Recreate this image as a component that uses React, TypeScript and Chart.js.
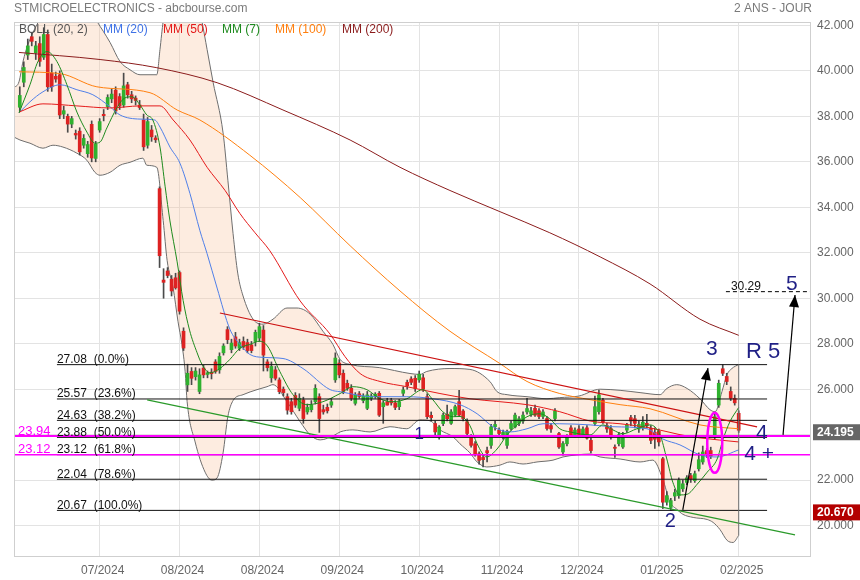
import React, { useEffect, useRef } from 'react';
import { Chart, registerables } from 'chart.js';
Chart.register(...registerables);

// ---------- DATA ----------
const candleOpen = [38.40,39.50,40.70,41.50,40.80,41.20,40.60,41.60,39.90,39.76,
 39.83,38.10,38.00,37.66,37.25,37.35,36.73,36.36,37.65,36.15,
 37.40,38.09,38.43,38.77,39.15,38.87,38.50,39.39,38.95,38.80,
 38.50,37.84,36.73,37.40,37.05,34.82,30.80,31.20,30.84,30.90,
 31.13,28.55,26.19,26.78,26.55,25.90,26.93,26.65,26.75,27.20,
 26.85,27.60,28.62,27.74,28.30,27.80,28.10,28.05,27.95,28.10,
 28.25,28.60,27.20,26.50,26.85,26.41,26.00,25.67,25.45,25.72,
 25.16,25.53,25.00,25.10,25.45,25.67,25.10,25.20,25.30,26.41,
 27.15,26.70,26.26,26.04,25.38,25.80,25.50,25.16,25.60,25.70,
 25.82,25.23,25.45,25.50,25.40,25.23,25.82,26.30,26.45,26.48,
 26.41,26.50,25.67,24.85,24.49,23.90,24.49,24.90,24.50,24.86,
 25.45,25.04,24.57,23.90,23.60,23.16,23.00,23.30,23.53,24.35,
 24.20,23.90,23.53,24.27,24.34,24.50,24.60,25.00,24.90,25.16,
 25.05,24.80,24.71,24.40,24.71,24.05,23.24,23.60,24.30,24.00,
 24.25,24.00,24.30,23.75,24.49,25.01,25.52,24.40,24.27,23.45,
 23.60,23.46,24.20,24.75,24.70,24.25,24.30,24.50,24.27,24.10,
 24.15,22.94,21.03,20.80,21.30,21.32,21.62,21.90,22.20,21.98,
 22.50,22.80,23.30,23.30,23.90,25.30,26.90,26.56,25.90,25.60,
 24.94];
const candleHigh = [39.30,40.40,41.40,41.70,41.30,41.50,41.90,41.80,40.30,39.95,
 40.00,38.45,38.10,38.00,37.40,37.50,37.20,36.90,37.80,36.90,
 37.90,38.30,38.95,39.20,39.30,39.00,39.90,39.50,39.10,38.90,
 38.70,38.10,37.95,37.60,37.15,34.90,31.30,31.35,31.00,31.10,
 31.20,28.70,27.10,26.95,26.95,26.90,27.05,26.80,26.90,27.30,
 27.60,28.00,28.75,28.20,28.50,28.20,28.30,28.20,28.10,28.60,
 28.90,28.80,27.30,27.20,27.00,26.50,26.10,25.80,25.60,25.85,
 25.80,25.65,25.35,25.50,26.20,25.80,25.30,25.35,25.60,27.60,
 27.30,26.85,26.40,26.20,25.85,25.90,25.80,25.90,25.80,25.85,
 25.90,25.50,25.60,25.60,25.50,25.55,26.10,26.40,26.55,26.60,
 26.80,26.65,25.80,25.00,24.60,24.40,24.95,25.30,25.10,25.30,
 25.95,25.10,24.70,24.00,23.70,23.25,23.10,23.45,24.45,24.60,
 24.30,24.20,24.20,24.60,24.95,24.80,25.00,25.60,25.20,25.30,
 25.15,25.10,24.80,24.50,25.15,24.10,23.70,24.00,24.40,24.30,
 24.40,24.35,24.40,23.85,25.70,25.95,25.60,24.50,24.40,23.55,
 24.10,24.10,24.50,24.85,24.85,24.60,24.80,24.90,24.40,24.30,
 24.25,23.00,21.50,21.20,21.60,22.10,22.00,22.20,22.30,22.40,
 23.20,23.50,23.40,23.45,24.95,26.40,27.08,26.70,26.10,25.75,
 25.05];
const candleLow = [38.20,39.30,40.50,41.10,40.50,40.20,40.50,39.10,39.10,39.50,
 37.90,37.90,37.30,37.50,37.00,36.30,36.60,36.20,36.00,36.00,
 37.30,37.80,38.30,38.60,38.10,38.30,38.40,38.80,38.60,38.50,
 38.30,36.50,36.60,36.90,36.85,31.35,30.00,30.90,30.10,30.40,
 29.30,27.70,25.90,26.20,26.40,25.80,26.50,26.50,26.45,26.70,
 26.70,27.50,28.00,27.60,27.80,27.70,27.75,27.60,27.60,27.90,
 28.10,26.80,26.80,26.30,26.40,25.80,25.70,24.90,24.90,25.20,
 25.05,24.50,24.90,25.00,25.35,24.10,24.90,24.95,25.20,26.30,
 26.50,25.80,25.95,25.50,25.30,25.60,25.40,25.10,25.50,25.60,
 24.80,24.50,25.30,25.30,25.10,25.10,25.70,26.00,26.20,25.90,
 26.30,25.90,24.70,24.60,23.95,23.80,24.40,24.60,24.45,24.80,
 24.80,24.60,24.00,23.45,23.05,22.70,22.58,22.80,23.40,24.20,
 23.95,23.80,23.40,24.20,24.30,24.40,24.50,24.90,24.80,24.80,
 24.70,24.70,24.20,24.10,24.60,23.40,23.10,23.50,23.95,23.90,
 23.95,23.90,23.80,23.20,24.40,24.90,24.50,24.10,23.80,23.00,
 23.50,23.40,24.10,24.40,24.30,24.10,24.20,24.30,23.60,23.40,
 23.50,20.75,20.90,20.67,21.10,21.20,21.50,21.80,21.90,21.90,
 22.40,22.70,23.00,22.95,23.80,25.20,26.60,26.20,25.50,25.30,
 24.10];
const candleClose = [38.92,40.15,41.10,41.30,41.10,40.42,41.60,39.30,39.30,39.64,
 38.06,38.25,37.66,37.90,37.18,36.44,37.03,36.76,36.17,36.78,
 37.77,38.03,38.83,38.98,38.24,38.46,39.34,38.95,38.77,38.70,
 38.39,36.66,37.77,37.10,36.97,31.87,30.70,31.00,30.32,30.46,
 29.43,27.81,26.70,26.48,26.80,26.63,26.63,26.72,26.68,26.78,
 27.44,27.90,28.18,28.03,27.90,28.05,27.85,27.70,27.70,28.50,
 28.75,27.50,26.95,27.00,26.48,25.89,25.85,25.08,25.01,25.30,
 25.60,24.71,25.20,25.30,26.04,24.71,25.00,25.05,25.45,27.37,
 26.63,25.90,26.04,25.60,25.75,25.68,25.70,25.75,25.70,25.78,
 24.86,25.40,25.30,25.40,25.20,25.45,25.97,26.15,26.30,26.04,
 26.66,26.00,24.79,24.75,24.12,24.34,24.86,24.70,25.00,25.23,
 24.86,24.71,24.05,23.53,23.16,22.87,22.90,23.20,24.34,24.45,
 24.05,24.10,24.15,24.49,24.86,24.70,24.86,25.15,25.05,24.86,
 24.80,25.00,24.27,24.25,25.04,23.46,23.61,23.90,24.00,24.20,
 24.00,24.25,23.85,23.30,25.23,25.75,24.57,24.25,23.90,23.40,
 24.00,23.98,24.42,24.60,24.50,24.45,24.55,24.40,23.75,23.80,
 23.68,21.03,21.32,21.10,21.45,21.99,21.84,22.10,22.05,22.28,
 22.90,23.24,23.15,23.05,24.79,26.26,26.70,26.34,25.60,25.40,
 24.195];

const xTickPositions = [20, 40, 60, 80, 100, 120, 140, 160, 180];
const xTickLabels = ['07/2024', '08/2024', '08/2024', '09/2024', '10/2024', '11/2024', '12/2024', '01/2025', '02/2025'];
const yTickValues = [20, 22, 24, 26, 28, 30, 32, 34, 36, 38, 40, 42];

// moving averages: [candle index, value]
const mm200Points = [[-0.2,40.81],[20.1,40.5],[34.3,40.14],[49.4,39.48],[65.9,38.28],[82.7,36.96],[95.2,35.76],[107.7,34.74],[120.2,33.81],[132.7,32.88],[145.3,31.82],[157.8,30.63],[170.3,29.08],[180,28.37]];
const mm100Points = [[-0.2,39.96],[10.1,39.88],[19.3,39.3],[32.6,39.04],[39.4,38.28],[45.1,37.84],[57.6,36.29],[70.2,34.43],[82.7,32.31],[95.2,30.32],[107.7,28.55],[120.2,27.13],[127,26.34],[135.2,25.81],[142.8,25.54],[150.3,25.32],[157.8,25.14],[170.3,24.43],[180,24.26]];
const mm50Points = [[-0.2,38.19],[5.8,38.55],[14.3,38.46],[22.6,38.37],[30.1,38.46],[35.1,38.46],[38.4,37.84],[42.6,36.96],[46.9,35.76],[51.4,34.74],[55.1,33.73],[58.9,32.88],[62.6,32.09],[70.2,29.88],[77.7,28.42],[81.4,27.44],[85.2,26.69],[90.2,26.34],[96.9,26.11],[105.2,25.81],[112.7,25.58],[120.2,25.45],[127,25.32],[135.2,25.01],[142.8,24.6],[150.3,24.48],[157.8,24.3],[165.3,24.0],[170.3,23.86],[180,23.68]];
const mm20Points = [[-0.2,38.15],[2.55,38.64],[5.8,39.08],[10.1,39.39],[14.3,39.17],[18.3,38.95],[22.6,38.42],[25.1,38.06],[30.1,37.88],[33.8,37.84],[35.1,37.53],[37.6,36.65],[40.1,35.94],[42.6,34.61],[45.1,32.97],[46.9,31.96],[49.4,30.45],[52.6,28.64],[55.1,27.97],[57.6,27.53],[60.9,27.4],[65.9,27.35],[70.9,26.91],[77.7,25.98],[80.2,25.89],[88.4,25.67],[96.9,25.67],[103.4,25.58],[110.2,25.32],[114.5,24.92],[118.5,24.35],[122.7,24.12],[127,24.26],[131,24.48],[135.2,24.48],[142.8,24.43],[148.5,24.35],[157,24.26],[161,23.81],[165.3,23.55],[170.3,23.11],[174.6,23.02],[180,23.33]];
const mm7Points = [[-0.2,38.15],[2.55,39.39],[4.55,40.41],[6.8,40.85],[9.3,40.41],[11.8,39.39],[14.3,38.19],[16.8,37.31],[18.8,36.82],[20.1,36.87],[21.8,37.49],[24.3,38.37],[26.3,38.81],[28.1,38.86],[30.1,38.5],[31.8,38.06],[33.3,37.84],[35.1,36.65],[36.4,34.9],[37.6,33.4],[39.4,31.6],[40.9,29.9],[42.5,28.6],[44.4,27.6],[45.6,27.1],[47.6,26.72],[50.1,26.91],[52.6,27.31],[55.1,27.8],[57.6,27.97],[60.1,28.11],[62,27.9],[65.1,26.78],[68.4,25.76],[71.9,25.32],[75.9,25.45],[80.2,25.81],[83.4,26.11],[86.9,25.98],[90.2,25.58],[93.4,25.45],[96.9,25.58],[100.9,25.98],[103.4,25.54],[105.9,25.01],[108.5,24.79],[110.2,24.8],[112.7,24.4],[114.5,23.6],[116.9,23.02],[119.5,23.37],[122,23.99],[124.5,24.43],[127,24.79],[130.2,24.92],[132.7,24.7],[135.2,24.26],[137.8,24.12],[142.8,23.99],[146,24.43],[148.5,24.21],[151,24.04],[154.5,24.26],[157.8,24.43],[160.3,23.99],[162,22.93],[163.5,21.91],[165.3,21.35],[167.1,21.38],[169.6,21.82],[172.1,22.35],[174.6,22.93],[176.1,23.81],[177.8,24.57],[180,25.2]];
const bollUpperPoints = [[-1.45,39.26],[-0.2,39.52],[0.8,40.41],[2.05,41.16],[3.3,41.69],[4.3,42.04],[7,42.8],[12,43.2],[17,42.8],[19.3,42.18],[22.6,41.25],[25.1,40.41],[27.6,40.05],[30.1,39.83],[34.3,39.83],[35.1,40.94],[35.9,42.18],[38,44],[42,44.5],[44,43.5],[45.6,42.18],[46.9,40.94],[48.4,39.5],[50.9,37.27],[52.1,35.19],[53.4,32.84],[54.6,31.07],[55.9,30.1],[58.4,29.08],[60.9,28.86],[63.4,29.08],[66.9,29.57],[69.4,29.57],[72.7,29.3],[75.9,28.55],[78.4,27.97],[80.2,27.31],[82.7,27.09],[90,26.95],[97.7,26.69],[100.2,26.65],[101.9,26.78],[107.7,26.91],[112.7,26.87],[117.7,26.34],[119.5,25.89],[122,25.76],[127,25.67],[132,25.58],[135.2,25.63],[140,25.7],[145.3,26.0],[150.3,25.95],[155.3,25.85],[160.3,25.76],[162,26.03],[164.5,26.2],[167.1,26.03],[170.3,25.58],[172.8,25.1],[174.1,25.01],[175.8,25.89],[177.1,26.65],[178.3,26.91],[180,27.09]];
const bollLowerPoints = [[-1.45,37.09],[0.05,36.96],[2.55,36.82],[5.8,36.6],[8.3,36.73],[10.8,36.65],[14.3,36.38],[16.8,36.07],[18.8,35.54],[20.1,35.41],[22.6,35.54],[25.1,35.85],[27.6,35.98],[30.8,36.16],[31.8,35.85],[34.3,35.76],[35.9,33.42],[36.9,31.65],[38.4,30.45],[39.6,28.99],[40.6,27.97],[41.4,26.78],[41.9,25.45],[43.9,23.68],[46.4,22.35],[48.1,22.0],[49.4,22.1],[50.9,23.2],[52.1,24.8],[53.4,25.5],[55.9,25.76],[59.4,25.98],[61.9,26.11],[63.4,26.2],[66.9,25.45],[70.2,24.57],[72.7,23.99],[75.2,23.77],[78.9,23.99],[80.2,24.12],[83.4,24.21],[87.7,24.12],[92.7,24.35],[96.9,24.26],[100.2,24.65],[102.7,24.61],[105.2,24.21],[108.5,23.9],[110.2,23.6],[112.7,23.2],[114.5,22.8],[116.9,22.58],[120.2,22.66],[122.7,22.8],[126,22.71],[129.5,22.8],[133.5,22.88],[136,23.02],[139.5,23.11],[142.8,23.15],[145.3,23.02],[150.3,22.93],[155.3,22.8],[158.5,22.88],[161,22.04],[162.8,21.03],[164.5,20.72],[166,20.5],[168.6,20.36],[172.1,20.27],[173.6,20.14],[175.3,19.83],[177.1,19.35],[178.6,19.26],[180,19.57]];

const fibLevels = [27.08, 25.57, 24.63, 23.88, 23.12, 22.04, 20.67];
const fibPercents = ['0.0%', '23.6%', '38.2%', '50.0%', '61.8%', '78.6%', '100.0%'];
const magentaLevels = [23.94, 23.12];
const redTrend = [[50.1, 29.35], [184.6, 24.34]];
const greenTrend = [[31.9, 25.53], [194.1, 19.59]];
const arrowOne = [[166.0, 20.69], [172.3, 26.93]];
const arrowTwo = [[191.1, 23.99], [194.1, 30.14]];
const targetLevel = 30.29;
const lastPrice = 24.195;
const lowPrice = 20.67;

// ---------- LAYOUT / STYLE ----------
const X_MIN = -1.45, X_MAX = 198.1, Y_MIN = 18.62, Y_MAX = 42.15;
const FIB_START = 9.3, FIB_END = 187.1, DASH_START = 176.8;
const FONT = '"Liberation Sans", Arial, Helvetica, sans-serif';
const NAVY = '#1f1f85';
const UP = '#2fb12f', DOWN = '#dd2222', WICK = '#4a4a4a';

const annotations = [
  { text: '1', k: 100.0, v: 24.03, size: 17 },
  { text: '2', k: 162.9, v: 20.19, size: 20 },
  { text: '3', k: 173.3, v: 27.77, size: 21 },
  { text: 'R 5', k: 186.1, v: 27.66, size: 22 },
  { text: '4', k: 185.8, v: 24.08, size: 21 },
  { text: '4 +', k: 185.1, v: 23.15, size: 21 },
  { text: '5', k: 193.3, v: 30.63, size: 21 },
];
const ellipse = { k: 174.0, v: 23.64, dk: 1.88, dv: 1.32 };

const legendItems = [
  { text: 'BOLL (20, 2)', x: 19, color: '#555555' },
  { text: 'MM (20)', x: 103, color: '#3f72e6' },
  { text: 'MM (50)', x: 163, color: '#e41a1a' },
  { text: 'MM (7)', x: 222, color: '#1d8a1d' },
  { text: 'MM (100)', x: 275, color: '#ff7f0e' },
  { text: 'MM (200)', x: 342, color: '#8b1c1c' },
];

const pts = (arr: number[][]) => arr.map(([x, y]) => ({ x, y }));
const hline = (v: number, a: number, b: number) => [{ x: a, y: v }, { x: b, y: v }];

function lineDs(data: any[], color: string, width: number, order: number, extra: any = {}) {
  return { type: 'line', data, borderColor: color, borderWidth: width, pointRadius: 0, fill: false, order, ...extra };
}

function drawArrowHead(ctx: CanvasRenderingContext2D, x0: number, y0: number, x1: number, y1: number) {
  const ang = Math.atan2(y1 - y0, x1 - x0);
  const len = 12, half = 5;
  ctx.beginPath();
  ctx.moveTo(x1, y1);
  ctx.lineTo(x1 - len * Math.cos(ang) + half * Math.sin(ang), y1 - len * Math.sin(ang) - half * Math.cos(ang));
  ctx.lineTo(x1 - len * Math.cos(ang) - half * Math.sin(ang), y1 - len * Math.sin(ang) + half * Math.cos(ang));
  ctx.closePath();
  ctx.fill();
}

const overlayPlugin = {
  id: 'overlay',
  afterDatasetsDraw(chart: any) {
    const { ctx, chartArea: a, scales } = chart;
    const px = (k: number) => scales.x.getPixelForValue(k);
    const py = (v: number) => scales.y.getPixelForValue(v);
    ctx.save();
    ctx.beginPath();
    ctx.rect(a.left, a.top, a.right - a.left, a.bottom - a.top);
    ctx.clip();
    // band vertical edges
    ctx.strokeStyle = '#6e6e6e';
    ctx.lineWidth = 1;
    const uF = bollUpperPoints[0], lF = bollLowerPoints[0];
    const uL = bollUpperPoints[bollUpperPoints.length - 1], lL = bollLowerPoints[bollLowerPoints.length - 1];
    ctx.beginPath();
    ctx.moveTo(px(uF[0]) + 0.5, py(uF[1])); ctx.lineTo(px(lF[0]) + 0.5, py(lF[1]));
    ctx.moveTo(px(uL[0]), py(uL[1])); ctx.lineTo(px(lL[0]), py(lL[1]));
    ctx.stroke();
    // magenta ellipse
    ctx.strokeStyle = '#ff00ff';
    ctx.lineWidth = 2.5;
    const cx = px(ellipse.k), cy = py(ellipse.v);
    ctx.beginPath();
    ctx.ellipse(cx, cy, Math.abs(px(ellipse.k + ellipse.dk) - cx), Math.abs(py(ellipse.v + ellipse.dv) - cy), 0, 0, Math.PI * 2);
    ctx.stroke();
    // arrow heads
    ctx.fillStyle = '#000';
    for (const ar of [arrowOne, arrowTwo]) {
      drawArrowHead(ctx, px(ar[0][0]), py(ar[0][1]), px(ar[1][0]), py(ar[1][1]));
    }
    // fib labels
    ctx.fillStyle = '#111';
    ctx.font = `12px ${FONT}`;
    ctx.textAlign = 'left';
    ctx.textBaseline = 'alphabetic';
    fibLevels.forEach((lv, i) => {
      ctx.fillText(`${lv.toFixed(2)}  (${fibPercents[i]})`, px(FIB_START), py(lv) - 1.5);
    });
    // magenta labels
    ctx.fillStyle = '#ff00ff';
    ctx.font = `13px ${FONT}`;
    magentaLevels.forEach((lv) => {
      ctx.fillText(lv.toFixed(2), a.left + 4, py(lv) - 1.5);
    });
    // target label
    ctx.fillStyle = '#111';
    ctx.font = `12px ${FONT}`;
    ctx.textAlign = 'center';
    ctx.fillText(targetLevel.toFixed(2), px(181.8), py(targetLevel) - 2);
    // annotation texts
    ctx.fillStyle = NAVY;
    ctx.textBaseline = 'middle';
    for (const an of annotations) {
      ctx.font = `${an.size}px ${FONT}`;
      ctx.fillText(an.text, px(an.k), py(an.v));
    }
    ctx.restore();
  },
  afterDraw(chart: any) {
    const { ctx, chartArea: a, scales } = chart;
    const py = (v: number) => scales.y.getPixelForValue(v);
    ctx.save();
    // plot border
    ctx.strokeStyle = '#cfcfcf';
    ctx.lineWidth = 1;
    ctx.strokeRect(Math.round(a.left) + 0.5, Math.round(a.top) + 0.5, Math.round(a.right - a.left) - 1, Math.round(a.bottom - a.top) - 1);
    // title
    ctx.font = `12px ${FONT}`;
    ctx.fillStyle = '#7a7a7a';
    ctx.textBaseline = 'middle';
    ctx.textAlign = 'left';
    ctx.fillText('STMICROELECTRONICS - abcbourse.com', 14, 9);
    ctx.textAlign = 'right';
    ctx.fillText('2 ANS - JOUR', 812, 9);
    // legend
    ctx.textAlign = 'left';
    for (const it of legendItems) {
      ctx.fillStyle = it.color;
      ctx.fillText(it.text, it.x, 30);
    }
    // price tags
    const tags = [
      { v: lastPrice, bg: '#666666', txt: lastPrice.toFixed(3) },
      { v: lowPrice, bg: '#b30000', txt: lowPrice.toFixed(3) },
    ];
    ctx.font = `bold 12px ${FONT}`;
    for (const t of tags) {
      const yc = py(t.v) + 2;
      ctx.fillStyle = t.bg;
      ctx.fillRect(a.right + 2, yc - 8, 860 - a.right - 2, 16);
      ctx.fillStyle = '#ffffff';
      ctx.textAlign = 'left';
      ctx.fillText(t.txt, a.right + 6, yc + 0.5);
    }
    ctx.restore();
  },
};

export default function App() {
  const ref = useRef<HTMLCanvasElement>(null);
  useEffect(() => {
    document.body.style.margin = '0';
    const idx = candleClose.map((_, i) => i);
    const isUp = (i: number) => candleClose[i] >= candleOpen[i];
    const datasets: any[] = [
      lineDs(pts(bollUpperPoints), '#6e6e6e', 1, 20, { fill: '+1', backgroundColor: 'rgba(250,195,160,0.32)', cubicInterpolationMode: 'monotone' }),
      lineDs(pts(bollLowerPoints), '#6e6e6e', 1, 19, { cubicInterpolationMode: 'monotone' }),
      {
        type: 'bar', data: idx.map((i) => ({ x: i, y: [candleLow[i], candleHigh[i]] })),
        backgroundColor: WICK, barThickness: 1, grouped: false, order: 12,
      },
      {
        type: 'bar', data: idx.map((i) => ({ x: i, y: [candleOpen[i], candleClose[i]] })),
        backgroundColor: (c: any) => (isUp(c.dataIndex) ? UP : DOWN), barThickness: 3, grouped: false, minBarLength: 1, order: 11,
      },
      lineDs(pts(mm200Points), '#8b1c1c', 1, 5, { cubicInterpolationMode: 'monotone' }),
      lineDs(pts(mm100Points), '#ff7f0e', 1, 5, { cubicInterpolationMode: 'monotone' }),
      lineDs(pts(mm50Points), '#e41a1a', 1, 5, { cubicInterpolationMode: 'monotone' }),
      lineDs(pts(mm20Points), '#4f7fe8', 1, 5, { cubicInterpolationMode: 'monotone' }),
      lineDs(pts(mm7Points), '#1d8a1d', 1, 4, { cubicInterpolationMode: 'monotone' }),
      ...fibLevels.map((lv) => lineDs(hline(lv, FIB_START, FIB_END), '#111111', 1, 3)),
      lineDs(hline(magentaLevels[0], X_MIN, X_MAX), '#ff00ff', 2, 2),
      lineDs(hline(magentaLevels[1], X_MIN, X_MAX), '#ff00ff', 1.5, 2),
      lineDs(pts(redTrend), '#cc1111', 1.2, 2),
      lineDs(pts(greenTrend), '#2a9a2a', 1.2, 2),
      lineDs(pts(arrowOne), '#000000', 1.2, 1),
      lineDs(pts(arrowTwo), '#000000', 1.2, 1),
      lineDs(hline(targetLevel, DASH_START, X_MAX), '#000000', 1, 1, { borderDash: [4, 3] }),
    ];
    Chart.defaults.font.family = FONT;
    const chart = new Chart(ref.current as HTMLCanvasElement, {
      type: 'line',
      data: { datasets },
      options: {
        animation: false,
        responsive: false,
        maintainAspectRatio: false,
        events: [],
        layout: { padding: { left: 14, top: 22, right: 0, bottom: 0 } },
        plugins: { legend: { display: false }, tooltip: { enabled: false } },
        scales: {
          x: {
            type: 'linear', min: X_MIN, max: X_MAX, offset: false,
            afterBuildTicks: (s: any) => { s.ticks = xTickPositions.map((v) => ({ value: v })); },
            afterFit: (s: any) => { s.height = 23; },
            grid: { color: '#e3e3e3', drawTicks: false, offset: false },
            border: { display: false },
            ticks: {
              padding: 6, color: '#666666', font: { size: 12 }, autoSkip: false, maxRotation: 0, labelOffset: 3,
              callback: (_v: any, i: number) => xTickLabels[i],
            },
          },
          y: {
            type: 'linear', position: 'right', min: Y_MIN, max: Y_MAX,
            afterBuildTicks: (s: any) => { s.ticks = yTickValues.map((v) => ({ value: v })); },
            afterFit: (s: any) => { s.width = 49; },
            grid: { color: '#e3e3e3', drawTicks: false },
            border: { display: false },
            ticks: { padding: 6, color: '#666666', font: { size: 12 }, callback: (v: any) => Number(v).toFixed(3) },
          },
        },
      } as any,
      plugins: [overlayPlugin],
    } as any);
    return () => chart.destroy();
  }, []);
  return (
    <div style={{ width: 860, height: 580, position: 'relative' }}>
      <canvas ref={ref} width={860} height={580} style={{ display: 'block' }} />
    </div>
  );
}
